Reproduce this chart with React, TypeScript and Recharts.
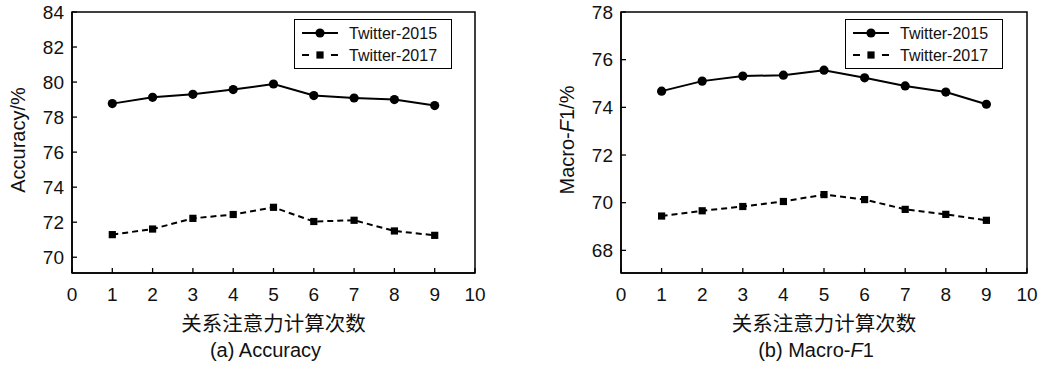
import React from 'react';
import { LineChart, Line, XAxis, YAxis, ReferenceArea } from 'recharts';

// values
const iterations = [1, 2, 3, 4, 5, 6, 7, 8, 9];
const acc2015 = [78.77, 79.13, 79.3, 79.57, 79.89, 79.23, 79.09, 79.0, 78.66];
const acc2017 = [71.29, 71.61, 72.22, 72.44, 72.85, 72.04, 72.11, 71.5, 71.25];
const f1_2015 = [74.68, 75.1, 75.31, 75.35, 75.56, 75.24, 74.9, 74.64, 74.13];
const f1_2017 = [69.44, 69.66, 69.84, 70.05, 70.34, 70.13, 69.72, 69.51, 69.26];

const xTicks = [0, 1, 2, 3, 4, 5, 6, 7, 8, 9, 10];
const accTicks = [70, 72, 74, 76, 78, 80, 82, 84];
const f1Ticks = [68, 70, 72, 74, 76, 78];

const SERIES = ['Twitter-2015', 'Twitter-2017'];
const X_TITLE = '关系注意力计算次数';
const FONT = '"Liberation Sans", Arial, "Noto Sans CJK SC", sans-serif';

const build = (a: number[], b: number[]) =>
    iterations.map((it, i) => ({ it, s15: a[i], s17: b[i] }));

const XTick = ({ x, y, payload }: any) => (
    <g>
        <line x1={x} x2={x} y1={y} y2={y - 5} stroke="#000" strokeWidth={1.3} />
        <text x={x} y={y + 21} textAnchor="middle" dominantBaseline="central" fontSize={19} fontFamily={FONT} fill="#111">
            {payload.value}
        </text>
    </g>
);

const YTick = ({ x, y, payload }: any) => (
    <g>
        <line x1={x} x2={x + 5} y1={y} y2={y} stroke="#000" strokeWidth={1.3} />
        <text x={x - 8} y={y} textAnchor="end" dominantBaseline="central" fontSize={19} fontFamily={FONT} fill="#111">
            {payload.value}
        </text>
    </g>
);

const CircleDot = ({ cx, cy }: any) => <circle cx={cx} cy={cy} r={4.6} fill="#000" />;
const SquareDot = ({ cx, cy }: any) => <rect x={cx - 3.6} y={cy - 3.6} width={7.2} height={7.2} fill="#000" />;

const LegendBox = ({ left }: any) => (
    <div style={{ position: 'absolute', left, top: 19, width: 156, height: 48, border: '1.5px solid #000', background: '#fff', fontFamily: FONT }}>
        <svg width={156} height={48} style={{ position: 'absolute', left: 0, top: 0 }}>
            <line x1={7} x2={43} y1={13} y2={13} stroke="#000" strokeWidth={2} />
            <circle cx={25} cy={13} r={4.6} fill="#000" />
            <line x1={7} x2={14} y1={35} y2={35} stroke="#000" strokeWidth={2} />
            <line x1={36} x2={43} y1={35} y2={35} stroke="#000" strokeWidth={2} />
            <rect x={21.4} y={31.4} width={7.2} height={7.2} fill="#000" />
            <text x={54} y={13} dominantBaseline="central" fontSize={16} fill="#111">{SERIES[0]}</text>
            <text x={54} y={35} dominantBaseline="central" fontSize={16} fill="#111">{SERIES[1]}</text>
        </svg>
    </div>
);

function Panel({ data, yTicks, yDomain, yTitle, caption, left, right, legendLeft }: any) {
    const plotW = 520 - left - right;
    const cx = left + plotW / 2;
    const ty = left - 54;
    return (
        <div style={{ position: 'relative', width: 520, height: 372 }}>
            <LineChart width={520} height={372} data={data} margin={{ top: 12, right, bottom: 98, left: left - 1 }}>
                <ReferenceArea x1={0} x2={10} y1={yDomain[0]} y2={yDomain[1]} fill="none" stroke="#000" strokeWidth={1.5} ifOverflow="visible" />
                <XAxis
                    type="number" dataKey="it" domain={[0, 10]} ticks={xTicks} height={1}
                    tickSize={0} tickMargin={0} tick={<XTick />} axisLine={{ stroke: '#000', strokeWidth: 1.5 }}
                    label={
                        <g>
                            <text x={cx} y={323} textAnchor="middle" dominantBaseline="central" fontSize={20.5} fontFamily={FONT} fill="#111">{X_TITLE}</text>
                            <text x={cx - 8} y={350} textAnchor="middle" dominantBaseline="central" fontSize={20} fontFamily={FONT} fill="#111">{caption}</text>
                        </g>
                    }
                />
                <YAxis
                    type="number" domain={yDomain} ticks={yTicks} width={1} allowDataOverflow
                    tickSize={0} tickMargin={0} tick={<YTick />} axisLine={{ stroke: '#000', strokeWidth: 1.5 }}
                    label={
                        <g>
                            <text x={ty} y={140} textAnchor="middle" dominantBaseline="central" fontSize={20} fontFamily={FONT} fill="#111"
                                transform={`rotate(-90 ${ty} 140)`}>
                                {yTitle}
                            </text>
                        </g>
                    }
                />
                <Line dataKey="s15" name={SERIES[0]} stroke="#000" strokeWidth={2} dot={<CircleDot />} isAnimationActive={false} />
                <Line dataKey="s17" name={SERIES[1]} stroke="#000" strokeWidth={2} strokeDasharray="6 4" dot={<SquareDot />} isAnimationActive={false} />
            </LineChart>
            <LegendBox left={legendLeft} />
        </div>
    );
}

export default function App() {
    return (
        <div style={{ position: 'absolute', left: 0, top: 0, width: 1040, height: 372, background: '#fff', display: 'flex' }}>
            <Panel
                data={build(acc2015, acc2017)} yTicks={accTicks} yDomain={[69.1, 84]}
                yTitle="Accuracy/%" caption="(a) Accuracy" left={72} right={45} legendLeft={294}
            />
            <Panel
                data={build(f1_2015, f1_2017)} yTicks={f1Ticks} yDomain={[67.05, 78]}
                yTitle={<><tspan>Macro-</tspan><tspan fontStyle="italic">F</tspan><tspan>1/%</tspan></>}
                caption={<><tspan>(b) Macro-</tspan><tspan fontStyle="italic">F</tspan><tspan>1</tspan></>}
                left={101} right={13} legendLeft={325}
            />
        </div>
    );
}
